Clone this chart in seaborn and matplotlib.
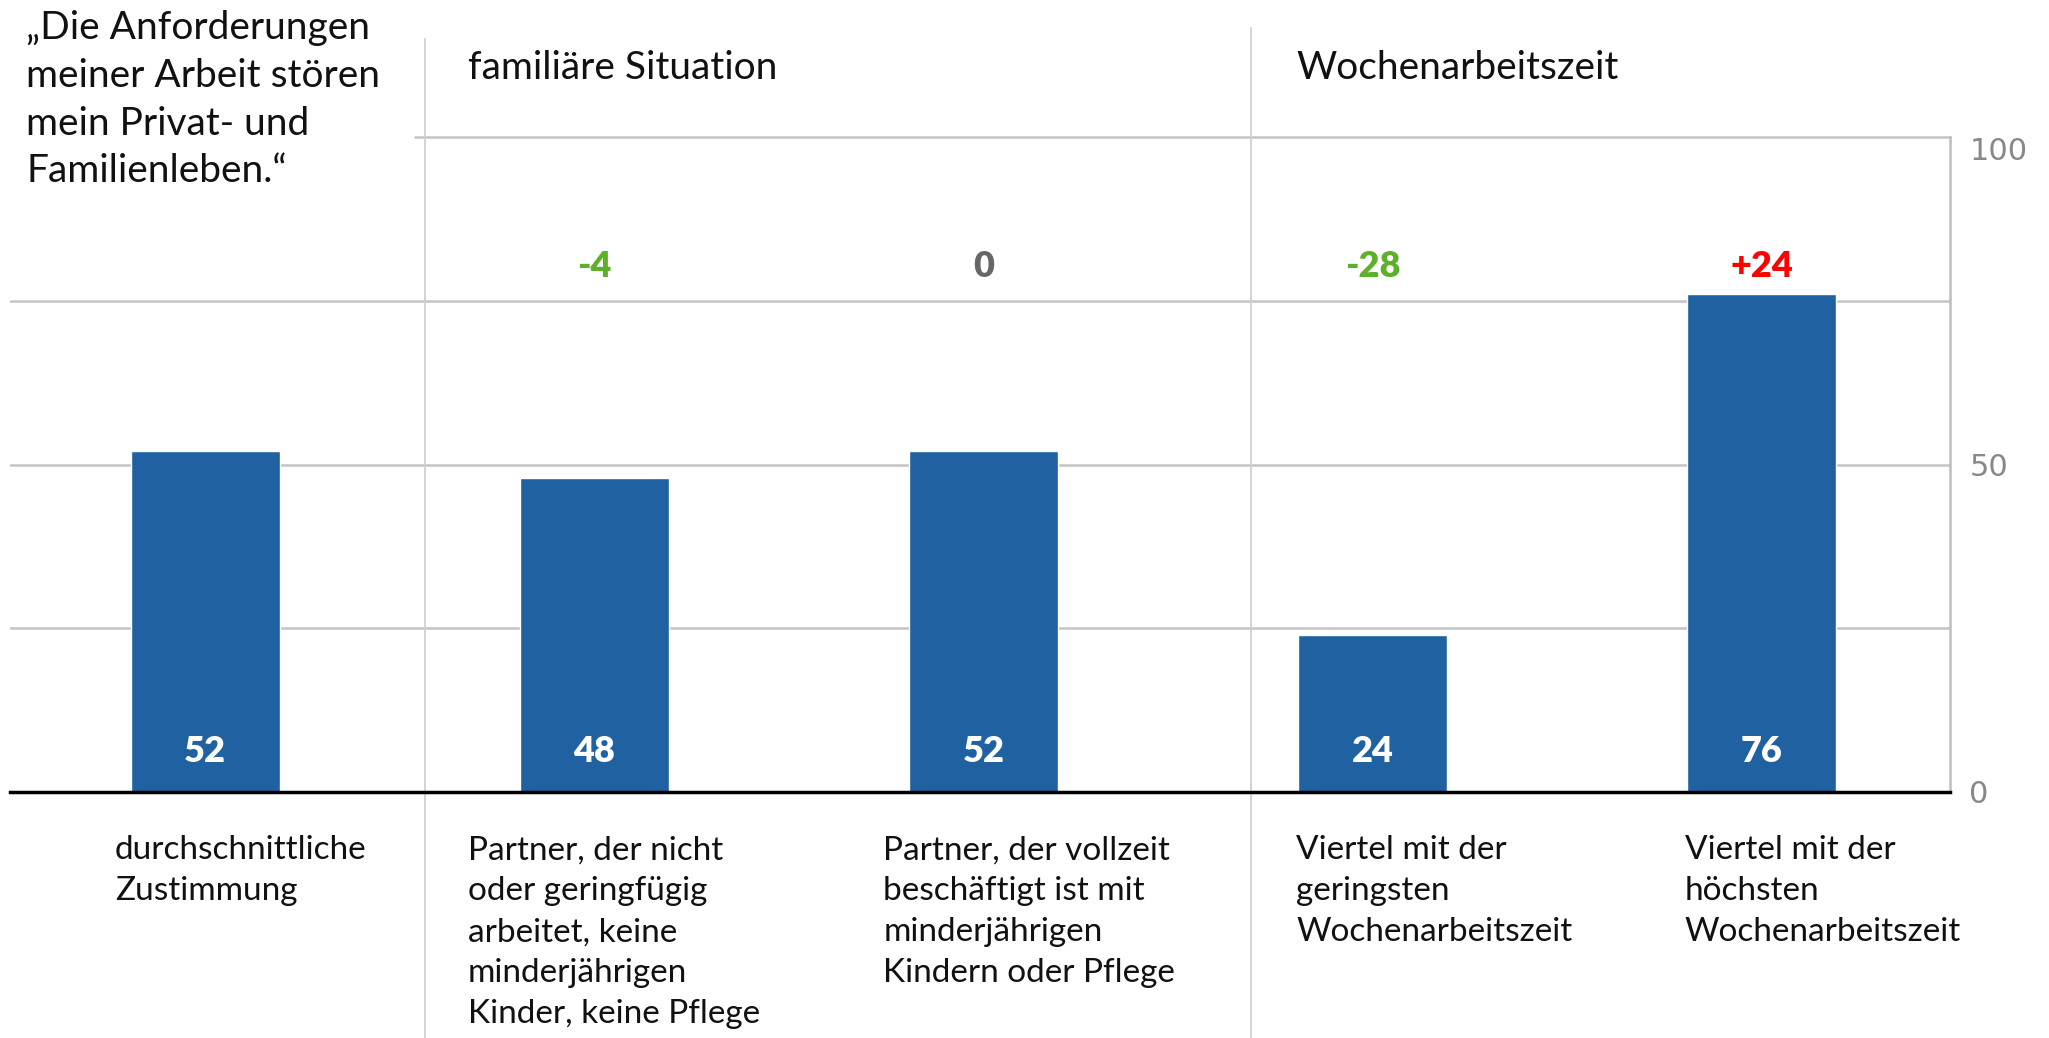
import pandas as pd
import seaborn as sns
import matplotlib.pyplot as plt

# chart data
categories = [
    "durchschnittliche\nZustimmung",
    "Partner, der nicht\noder geringfügig\narbeitet, keine\nminderjährigen\nKinder, keine Pflege",
    "Partner, der vollzeit\nbeschäftigt ist mit\nminderjährigen\nKindern oder Pflege",
    "Viertel mit der\ngeringsten\nWochenarbeitszeit",
    "Viertel mit der\nhöchsten\nWochenarbeitszeit",
]
values = [52, 48, 52, 24, 76]
deltas = ["", "-4", "0", "-28", "+24"]
delta_colors = ["", "#5db12a", "#666666", "#5db12a", "#ff0000"]
group_titles = ["familiäre Situation", "Wochenarbeitszeit"]
title = "„Die Anforderungen\nmeiner Arbeit stören\nmein Privat- und\nFamilienleben.“"

df = pd.DataFrame({"cat": categories, "value": values})

sns.set_theme(style="white")
plt.rcParams["font.family"] = ["Lato", "DejaVu Sans"]

fig = plt.figure(figsize=(20.49, 10.38), dpi=100)
ax = fig.add_axes([0.0051, 0.237, 0.9466, 0.631])

sns.barplot(data=df, x="cat", y="value", color="#2062a1", saturation=1,
            width=0.383, ax=ax, zorder=3)

ax.set_xlim(-0.5, 4.484)
ax.set_ylim(0, 100)
ax.set_xlabel("")
ax.set_ylabel("")
ax.set_xticks([])

# gridlines
for y in [25, 50, 75]:
    ax.axhline(y, color="#c4c4c4", lw=1.8, zorder=1)
ax.axhline(100, xmin=(0.54 + 0.5) / 4.984, xmax=1, color="#c4c4c4", lw=1.8,
           zorder=1, clip_on=False)

# group separators
ax.axvline(0.564, ymin=-0.375, ymax=1.15, color="#d0d0d0", lw=1.3,
           clip_on=False, zorder=1)
ax.axvline(2.687, ymin=-0.375, ymax=1.166, color="#d0d0d0", lw=1.3,
           clip_on=False, zorder=1)

# spines and right axis
for s in ["top", "left"]:
    ax.spines[s].set_visible(False)
ax.spines["bottom"].set_color("black")
ax.spines["bottom"].set_linewidth(2.5)
ax.spines["bottom"].set_zorder(4)
ax.spines["right"].set_color("#bdbdbd")
ax.spines["right"].set_linewidth(1.8)
ax.yaxis.tick_right()
ax.set_yticks([0, 50, 100])
ax.set_yticklabels(["0", "50", "100"], family="DejaVu Sans")
ax.tick_params(axis="y", length=0, pad=14, labelsize=22, labelcolor="#888888")
for lab in ax.get_yticklabels():
    if lab.get_text() == "100":
        lab.set_va("top")

# bar value labels and differences
for i, v in enumerate(values):
    ax.text(i, 6.2, str(v), ha="center", va="center", color="white",
            fontsize=26, fontweight="heavy", zorder=5)
    if deltas[i]:
        ax.text(i, 80.2, deltas[i], ha="center", va="center",
                color=delta_colors[i], fontsize=26, fontweight="heavy")

# category labels below the bars
label_x = [-0.232, 0.675, 1.743, 2.804, 3.802]
for x, lab in zip(label_x, categories):
    ax.text(x, -6.6, lab, ha="left", va="top", fontsize=24,
            linespacing=1.46, color="#111111")

# group headers
ax.text(0.675, 110.6, group_titles[0], ha="left", va="center", fontsize=28,
        color="#111111")
ax.text(2.804, 110.6, group_titles[1], ha="left", va="center", fontsize=28,
        color="#111111")

# statement title
fig.text(0.0128, 0.99, title, ha="left", va="top", fontsize=28,
         linespacing=1.4, color="#111111")

plt.savefig("out.png", dpi=100)
